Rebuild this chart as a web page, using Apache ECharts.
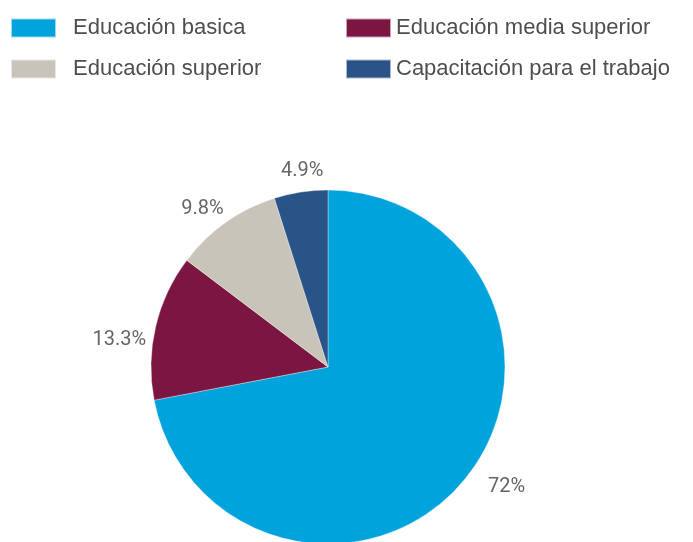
<!DOCTYPE html>
<html>
<head>
<meta charset="utf-8">
<script src="https://cdn.jsdelivr.net/npm/echarts@6/dist/echarts.min.js"></script>
<style>
  html, body { margin: 0; padding: 0; background: #fff; }
  #chart { width: 693px; height: 542px; }
</style>
</head>
<body>
<div id="chart"></div>
<script>
// Distribución por nivel educativo (porcentajes)
const categories = [
  'Educación basica',
  'Educación media superior',
  'Educación superior',
  'Capacitación para el trabajo'
];
const values = [72, 13.3, 9.8, 4.9];
const colors = ['#00A3DB', '#7B1542', '#C8C4BA', '#2A5387'];

const legendLeftItems = [categories[0], categories[2]];
const legendRightItems = [categories[1], categories[3]];

// pequeños desplazamientos de cada etiqueta respecto a su posición en el anillo
const labelNudge = [[19, -12], [-7, 20], [-6, 11], [6, 9]];

const pieData = categories.map((name, i) => ({
  name: name,
  value: values[i],
  itemStyle: { color: colors[i] }
}));

const legendText = {
  fontFamily: 'Liberation Sans, Arial, sans-serif',
  fontSize: 22,
  color: '#4D4F4F'
};

function legendColumn(names, left, textGap) {
  return {
    orient: 'vertical',
    left: left,
    top: 17,
    padding: 0,
    itemWidth: 45,
    itemHeight: 19,
    itemGap: 19,
    icon: 'rect',
    selectedMode: false,
    textStyle: Object.assign({ padding: [0, 0, 0, textGap] }, legendText),
    data: names
  };
}

const chart = echarts.init(document.getElementById('chart'), null, { renderer: 'canvas' });

chart.setOption({
  animation: false,
  backgroundColor: '#ffffff',
  legend: [
    legendColumn(legendLeftItems, 10, 12),
    legendColumn(legendRightItems, 345, 0)
  ],
  series: [
    {
      type: 'pie',
      center: [328, 367],
      radius: 177,
      startAngle: 90,
      clockwise: true,
      silent: true,
      itemStyle: { borderColor: 'rgba(255,255,255,0.6)', borderWidth: 0.6 },
      label: { show: false },
      labelLine: { show: false },
      data: pieData
    },
    {
      // anillo invisible que sitúa las etiquetas de porcentaje
      type: 'pie',
      center: [328, 367],
      radius: [194, 214],
      startAngle: 90,
      clockwise: true,
      silent: true,
      legendHoverLink: false,
      itemStyle: { color: 'rgba(0,0,0,0)' },
      label: {
        show: true,
        position: 'inside',
        formatter: (p) => p.value + '%',
        fontFamily: 'Roboto, sans-serif',
        fontSize: 20,
        color: '#666666'
      },
      labelLayout: (p) => ({ dx: labelNudge[p.dataIndex][0], dy: labelNudge[p.dataIndex][1] }),
      labelLine: { show: false },
      data: categories.map((name, i) => ({ name: name + ' ', value: values[i] }))
    }
  ]
});
</script>
</body>
</html>
